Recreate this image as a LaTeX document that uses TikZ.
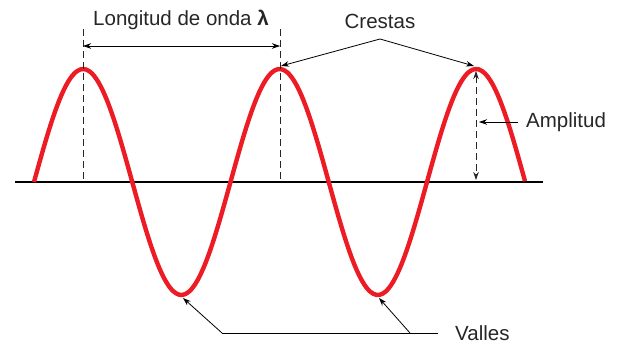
\documentclass[tikz,border=0pt]{standalone}
\usepackage{fontspec}
\setmainfont{Liberation Sans}
\usetikzlibrary{arrows.meta, positioning}
\definecolor{wavered}{RGB}{237,28,36}
\tikzset{
    wave/.style={draw=wavered, line width=4.4pt},
    axisline/.style={draw=black, line width=2.4pt},
    guide/.style={draw=black!85, line width=1pt, dash pattern=on 7pt off 4pt},
    arrow/.style={-{Stealth[length=8pt, width=5.5pt]}, line width=0.8pt},
    twoarrow/.style={{Stealth[length=8pt, width=5.5pt]}-{Stealth[length=8pt, width=5.5pt]}, line width=0.8pt},
    label/.style={inner sep=0pt, font=\fontsize{20.5}{24}\selectfont, text=black!85}
}
\begin{document}
\begin{tikzpicture}[x=1pt, y=-1pt]
    \useasboundingbox (0,0) rectangle (618,344);
    % points on the wave
    \coordinate (ejeA) at (15,182);
    \coordinate (ejeB) at (543,182);
    \coordinate (cresta1) at (83,69);
    \coordinate (cresta2) at (281,66);
    \coordinate (cresta3) at (474,66);
    \coordinate (valle1) at (183,298);
    \coordinate (valle2) at (379,298);

    % axis and wave
    \draw[axisline] (ejeA) -- (ejeB);
    \draw[wave] plot[domain=34:525, samples=160, smooth] (\x, {182-113*sin(1.8321*(\x-34))});

    % labels
    \node[label] (longitud) at (181,20) {Longitud de onda \textbf{λ}};
    \node[label] (crestas) at (380,21) {Crestas};
    \node[label, anchor=west] (amplitud) at (526,122) {Amplitud};
    \node[label, anchor=west] (valles) at (455,333) {Valles};

    % wavelength
    \coordinate (guia1) at (83,29);
    \coordinate (guia2) at (280,29);
    \draw[guide] (guia1) -- (guia1 |- ejeA);
    \draw[guide] (guia2) -- (guia2 |- ejeA);
    \draw[twoarrow] (83,46) -- (280,46);

    % crests
    \coordinate (crestasV) at (380,39);
    \draw[arrow] (crestasV) -- (cresta2);
    \draw[arrow] (crestasV) -- (cresta3);

    % amplitude
    \coordinate (ampTop) at (476,71);
    \coordinate (ampBot) at (476,180);
    \draw[guide, twoarrow] (ampTop) -- (ampBot);
    \draw[arrow] ([xshift=-8pt]amplitud.west) -- (479,122);

    % troughs
    \coordinate (vallesA) at (222,333);
    \coordinate (vallesB) at (410,333);
    \draw[line width=0.8pt] ([xshift=-17pt]valles.west) -- (vallesA);
    \draw[arrow] (vallesA) -- (valle1);
    \draw[arrow] (vallesB) -- (valle2);
\end{tikzpicture}
\end{document}
